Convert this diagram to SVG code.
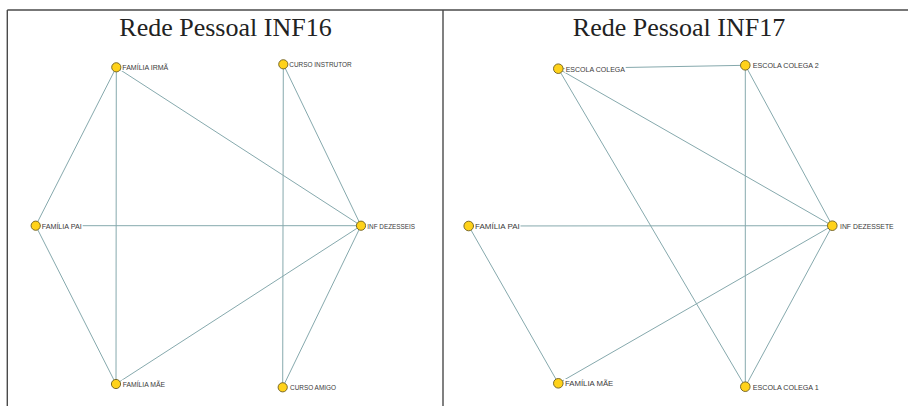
<svg xmlns="http://www.w3.org/2000/svg" width="908" height="406" viewBox="0 0 908 406">
<style>
.frame{stroke:#4a4a4a;stroke-width:1.4;fill:none}
.title{font-family:"Liberation Serif",serif;font-size:26px;fill:#222;text-anchor:middle}
.edge{stroke:#86a9ad;stroke-width:1;fill:none}
.node{fill:#ffd21a;stroke:#6e5e1e;stroke-width:0.9}
.lbl{font-family:"Liberation Sans",Arial,sans-serif;font-size:8px;fill:#3a3a3a}
.bg{fill:#fff}
</style>
<rect width="908" height="406" fill="#fff"/>
<g id="frame">
<line class="frame" x1="7.3" y1="10" x2="908" y2="10"/>
<line class="frame" x1="7.3" y1="10" x2="7.3" y2="406"/>
<line class="frame" x1="443" y1="10" x2="443" y2="406"/>
</g>
<text class="title" x="225.5" y="35.5">Rede Pessoal INF16</text>
<text class="title" x="679" y="35.5">Rede Pessoal INF17</text>
<g id="connectors">
<line class="edge" x1="116.3" y1="67.3" x2="35.7" y2="225.7"/>
<line class="edge" x1="116.3" y1="67.3" x2="116" y2="384"/>
<line class="edge" x1="116.3" y1="67.3" x2="361" y2="225.7"/>
<line class="edge" x1="283.3" y1="64.3" x2="282.7" y2="387.3"/>
<line class="edge" x1="283.3" y1="64.3" x2="361" y2="225.7"/>
<line class="edge" x1="35.7" y1="225.7" x2="361" y2="225.7"/>
<line class="edge" x1="35.7" y1="225.7" x2="116" y2="384"/>
<line class="edge" x1="116" y1="384" x2="361" y2="225.7"/>
<line class="edge" x1="361" y1="225.7" x2="282.7" y2="387.3"/>
<line class="edge" x1="558.3" y1="68.7" x2="745.3" y2="65.3"/>
<line class="edge" x1="558.3" y1="68.7" x2="832.3" y2="225.7"/>
<line class="edge" x1="558.3" y1="68.7" x2="745.3" y2="386.7"/>
<line class="edge" x1="745.3" y1="65.3" x2="745.3" y2="386.7"/>
<line class="edge" x1="745.3" y1="65.3" x2="832.3" y2="225.7"/>
<line class="edge" x1="468.7" y1="226" x2="832.3" y2="225.7"/>
<line class="edge" x1="468.7" y1="226" x2="558.3" y2="383.3"/>
<line class="edge" x1="558.3" y1="383.3" x2="832.3" y2="225.7"/>
<line class="edge" x1="832.3" y1="225.7" x2="745.3" y2="386.7"/>
</g>
<g id="n16-irma"><rect class="bg" x="121" y="63" width="48" height="8"/><circle class="node" cx="116.3" cy="67.3" r="4.6"/><text class="lbl" x="122.3" y="70.2" textLength="46" lengthAdjust="spacingAndGlyphs">FAMÍLIA IRMÃ</text></g>
<g id="n16-instrutor"><rect class="bg" x="288.3" y="60" width="64" height="8"/><circle class="node" cx="283.3" cy="64.3" r="4.6"/><text class="lbl" x="289.3" y="67.2" textLength="62.4" lengthAdjust="spacingAndGlyphs">CURSO INSTRUTOR</text></g>
<g id="n16-pai"><rect class="bg" x="40.7" y="221.5" width="42" height="8"/><circle class="node" cx="35.7" cy="225.7" r="4.6"/><text class="lbl" x="41.7" y="228.6" textLength="40" lengthAdjust="spacingAndGlyphs">FAMÍLIA PAI</text></g>
<g id="n16-inf"><rect class="bg" x="366.3" y="221.5" width="50" height="8"/><circle class="node" cx="361" cy="225.7" r="4.6"/><text class="lbl" x="367.3" y="228.6" textLength="47.7" lengthAdjust="spacingAndGlyphs">INF DEZESSEIS</text></g>
<g id="n16-mae"><rect class="bg" x="121.7" y="379.8" width="44" height="8"/><circle class="node" cx="116" cy="384" r="4.6"/><text class="lbl" x="122.7" y="386.9" textLength="42.3" lengthAdjust="spacingAndGlyphs">FAMÍLIA MÃE</text></g>
<g id="n16-amigo"><rect class="bg" x="289" y="383" width="48" height="8"/><circle class="node" cx="282.7" cy="387.3" r="4.6"/><text class="lbl" x="290" y="390.2" textLength="46" lengthAdjust="spacingAndGlyphs">CURSO AMIGO</text></g>
<g id="n17-colega"><rect class="bg" x="564.7" y="64.3" width="61" height="8.5"/><circle class="node" cx="558.3" cy="68.7" r="4.8"/><text class="lbl" x="565.7" y="71.7" textLength="59.3" lengthAdjust="spacingAndGlyphs">ESCOLA COLEGA</text></g>
<g id="n17-colega2"><rect class="bg" x="751.7" y="61" width="68" height="8.5"/><circle class="node" cx="745.3" cy="65.3" r="4.8"/><text class="lbl" x="752.7" y="68.3" textLength="66" lengthAdjust="spacingAndGlyphs">ESCOLA COLEGA 2</text></g>
<g id="n17-pai"><rect class="bg" x="474" y="221.7" width="46.5" height="8.5"/><circle class="node" cx="468.7" cy="226" r="4.8"/><text class="lbl" x="475" y="229" textLength="44.7" lengthAdjust="spacingAndGlyphs">FAMÍLIA PAI</text></g>
<g id="n17-inf"><rect class="bg" x="839" y="221.4" width="56" height="8.5"/><circle class="node" cx="832.3" cy="225.7" r="4.8"/><text class="lbl" x="840" y="228.7" textLength="53.7" lengthAdjust="spacingAndGlyphs">INF DEZESSETE</text></g>
<g id="n17-mae"><rect class="bg" x="564" y="379" width="50" height="8.5"/><circle class="node" cx="558.3" cy="383.3" r="4.8"/><text class="lbl" x="565" y="386.3" textLength="48.3" lengthAdjust="spacingAndGlyphs">FAMÍLIA MÃE</text></g>
<g id="n17-colega1"><rect class="bg" x="751.7" y="382.4" width="68" height="8.5"/><circle class="node" cx="745.3" cy="386.7" r="4.8"/><text class="lbl" x="752.7" y="389.7" textLength="66" lengthAdjust="spacingAndGlyphs">ESCOLA COLEGA 1</text></g>
</svg>
